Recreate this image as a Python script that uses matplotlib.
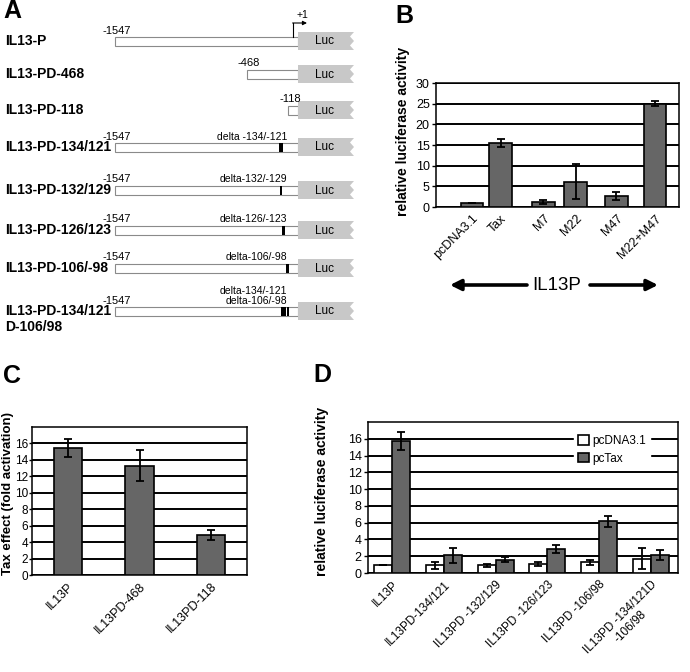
import matplotlib.pyplot as plt
from matplotlib.patches import Rectangle, Polygon

plt.rcParams['font.family'] = ['Liberation Sans', 'DejaVu Sans']

# ---- panel A: promoter constructs
a_names = ['IL13-P', 'IL13-PD-468', 'IL13-PD-118', 'IL13-PD-134/121',
           'IL13-PD-132/129', 'IL13-PD-126/123', 'IL13-PD-106/-98',
           'IL13-PD-134/121\nD-106/98']
a_starts = ['-1547', '-468', '-118', '-1547', '-1547', '-1547', '-1547', '-1547']
a_deletions = ['', '', '', 'delta -134/-121', 'delta-132/-129', 'delta-126/-123',
               'delta-106/-98', 'delta-134/-121\ndelta-106/-98']

# ---- panel B
b_labels = ['pcDNA3.1', 'Tax', 'M7', 'M22', 'M47', 'M22+M47']
b_vals = [1.0, 15.5, 1.2, 6.1, 2.7, 25.0]
b_err = [0.0, 0.9, 0.5, 4.2, 0.9, 0.6]

# ---- panel C
c_labels = ['IL13P', 'IL13PD-468', 'IL13PD-118']
c_vals = [15.5, 13.3, 4.9]
c_err = [1.1, 1.9, 0.6]

# ---- panel D
d_labels = ['IL13P', 'IL13PD-134/121', 'IL13PD -132/129', 'IL13PD -126/123',
            'IL13PD -106/98', 'IL13PD -134/121D\n-106/98']
d_pcdna = [1.0, 0.9, 0.9, 1.05, 1.3, 1.7]
d_pcdna_err = [0.0, 0.45, 0.15, 0.25, 0.3, 1.25]
d_pctax = [15.7, 2.1, 1.6, 2.85, 6.15, 2.15]
d_pctax_err = [1.05, 0.85, 0.3, 0.5, 0.7, 0.55]

GREY = '#666666'

W, H = 690, 672
fig = plt.figure(figsize=(W / 100, H / 100), dpi=100)

# overlay in pixel coordinates for the schematic, letters and arrows
ov = fig.add_axes([0, 0, 1, 1])
ov.set_xlim(0, W)
ov.set_ylim(H, 0)
ov.axis('off')

# schematic layout (pixels)
row_y = [41, 74, 110, 147, 190, 230, 268, 311]
bar_x0 = [115, 247, 288, 115, 115, 115, 115, 115]
marks = [[], [], [], [(279, 4)], [(280, 2)], [(282, 2.5)], [(286, 2.5)],
         [(281, 5), (287, 2)]]
bar_x1, luc_x1 = 298, 354

for i, name in enumerate(a_names):
    y = row_y[i]
    x0 = bar_x0[i]
    ov.add_patch(Rectangle((x0, y - 4.5), bar_x1 - x0, 9, facecolor='white',
                           edgecolor='#8a8a8a', lw=0.8))
    top, bot = y - 9, y + 9
    ov.add_patch(Polygon([(bar_x1, top), (luc_x1, top), (luc_x1 - 4, top + 4.5),
                          (luc_x1, y), (luc_x1 - 4, y + 4.5), (luc_x1, bot),
                          (bar_x1, bot)], closed=True, facecolor='#c8c8c8',
                         edgecolor='none'))
    ov.text(324, y + 0.5, 'Luc', ha='center', va='center', fontsize=8.5)
    for j, line in enumerate(name.split('\n')):
        ov.text(5, y + j * 16, line, ha='left', va='center', fontsize=10,
                fontweight='bold')
    ov.text(x0 + 2, y - 5.5, a_starts[i], ha='center', va='bottom', fontsize=8)
    if a_deletions[i]:
        ov.text(287, y - 5.5, a_deletions[i], ha='right', va='bottom',
                fontsize=7.5, linespacing=1.0, multialignment='right')
    for mx, mw in marks[i]:
        ov.add_patch(Rectangle((mx, y - 4.5), mw, 9, facecolor='black',
                               edgecolor='none'))

# transcription start arrow (+1)
ov.plot([293, 293], [36.5, 23], color='black', lw=0.8)
ov.annotate('', xy=(307, 23), xytext=(292.6, 23),
            arrowprops=dict(arrowstyle='-|>', lw=0.8, color='black',
                            mutation_scale=6, shrinkA=0, shrinkB=0))
ov.text(302, 15, '+1', ha='center', va='center', fontsize=7.5)

# panel letters
for letter, (lx, ly) in zip('ABCD', [(3, 18), (395, 23), (3, 383), (313, 382)]):
    ov.text(lx, ly, letter, fontsize=18, fontweight='bold', va='baseline')

# IL13P arrow under panel B
ov.text(557, 285, 'IL13P', ha='center', va='center', fontsize=13.5)
for tail, tip in [(527, 450), (590, 658)]:
    ov.annotate('', xy=(tip, 285), xytext=(tail, 285),
                arrowprops=dict(arrowstyle='-|>', lw=2.6, color='black',
                                mutation_scale=16, shrinkA=0, shrinkB=0))


def px_axes(l, t, r, b):
    return fig.add_axes([l / W, 1 - b / H, (r - l) / W, (b - t) / H])


def style(ax, ymax, ticks, fs):
    ax.set_ylim(0, ymax)
    ax.set_yticks(ticks)
    ax.yaxis.grid(True, color='black', lw=1.4)
    ax.set_axisbelow(True)
    for s in ax.spines.values():
        s.set_color('black')
        s.set_linewidth(1.1)
    ax.tick_params(axis='x', length=0, pad=4, labelsize=fs)
    ax.tick_params(axis='y', length=3, width=1, direction='out', pad=1.5,
                   labelsize=9)


err_kw = dict(elinewidth=1.3, capthick=1.3, ecolor='black')

# ---- panel B
axB = px_axes(436, 83, 679, 207)
b_pos = [1.26, 2.26, 3.76, 4.88, 6.31, 7.66]
axB.set_xlim(0, 8.5)
axB.bar(b_pos, b_vals, width=0.8, color=GREY, edgecolor='black', lw=1.2,
        yerr=b_err, capsize=3, error_kw=err_kw, zorder=3)
style(axB, 30, range(0, 31, 5), 9)
axB.set_xticks(b_pos)
axB.set_xticklabels(b_labels, rotation=45, ha='right', rotation_mode='anchor')
axB.set_ylabel('relative luciferase activity', fontsize=10, fontweight='bold')
axB.yaxis.set_label_coords(-0.107, 0.613)

# ---- panel C
axC = px_axes(32, 427, 247, 575)
c_pos = [0.5, 1.5, 2.5]
axC.set_xlim(0, 3)
axC.bar(c_pos, c_vals, width=0.4, color=GREY, edgecolor='black', lw=1.2,
        yerr=c_err, capsize=3, error_kw=err_kw, zorder=3)
style(axC, 18, range(0, 17, 2), 9)
axC.tick_params(axis='y', length=2, pad=1, labelsize=8.5)
axC.set_xticks(c_pos)
axC.set_xticklabels(c_labels, rotation=45, ha='right', rotation_mode='anchor')
axC.set_ylabel('Tax effect (fold activation)', fontsize=9.5, fontweight='bold')
axC.yaxis.set_label_coords(-0.082, 0.554)

# ---- panel D
axD = px_axes(368, 422, 678, 573)
d_pos = [k + 0.47 for k in range(6)]
bw = 0.35
axD.set_xlim(0, 6)
axD.bar([p - bw / 2 for p in d_pos], d_pcdna, width=bw, color='white',
        edgecolor='black', lw=1.2, yerr=d_pcdna_err, capsize=3,
        error_kw=err_kw, zorder=3, label='pcDNA3.1')
axD.bar([p + bw / 2 for p in d_pos], d_pctax, width=bw, color=GREY,
        edgecolor='black', lw=1.2, yerr=d_pctax_err, capsize=3,
        error_kw=err_kw, zorder=3, label='pcTax')
style(axD, 18, range(0, 17, 2), 8.5)
axD.set_xticks(d_pos)
axD.set_xticklabels(d_labels, rotation=45, ha='right', rotation_mode='anchor',
                    multialignment='center')
axD.set_ylabel('relative luciferase activity', fontsize=10, fontweight='bold')
axD.yaxis.set_label_coords(-0.126, 0.54)
leg = axD.legend(loc='center', bbox_to_anchor=(0.787, 0.815), frameon=True,
                 fancybox=False, edgecolor='white', framealpha=1, fontsize=8.5,
                 handlelength=0.9, handleheight=0.9, handletextpad=0.3,
                 borderpad=0.35, labelspacing=0.45)
leg.set_zorder(5)

fig.savefig('out.png', dpi=100)
